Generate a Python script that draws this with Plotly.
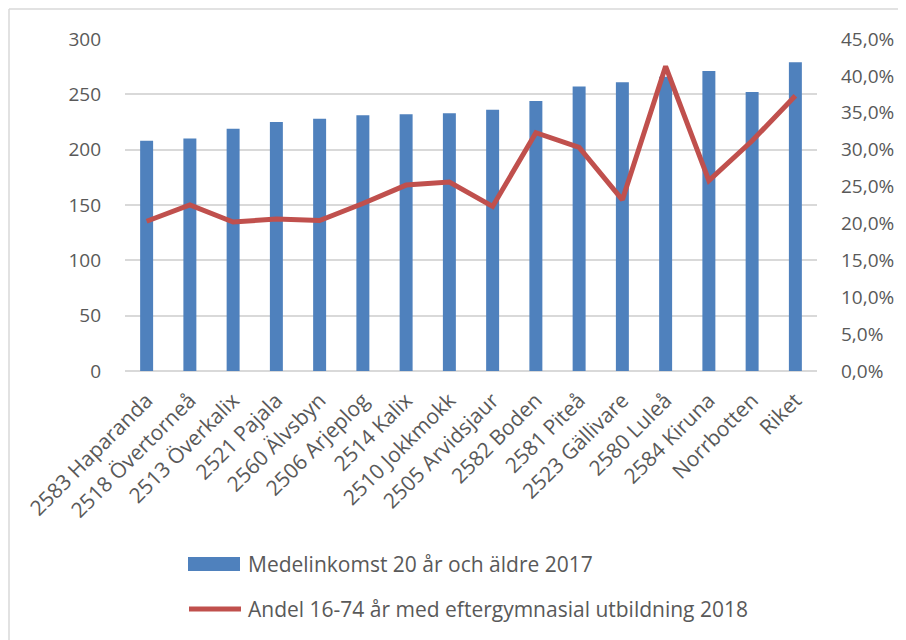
import plotly.graph_objects as go

categories = ["2583 Haparanda", "2518 Övertorneå", "2513 Överkalix", "2521 Pajala",
              "2560 Älvsbyn", "2506 Arjeplog", "2514 Kalix", "2510 Jokkmokk",
              "2505 Arvidsjaur", "2582 Boden", "2581 Piteå", "2523 Gällivare",
              "2580 Luleå", "2584 Kiruna", "Norrbotten", "Riket"]
income = [208, 210, 219, 225, 228, 231, 232, 233, 236, 244, 257, 261, 266, 271, 252, 279]
edu_share = [0.203, 0.225, 0.202, 0.206, 0.204, 0.227, 0.252, 0.256, 0.223, 0.323,
             0.303, 0.232, 0.413, 0.258, 0.312, 0.373]
left_ticks = [0, 50, 100, 150, 200, 250, 300]
right_ticks = [i * 0.05 for i in range(10)]

name_bar = "Medelinkomst 20 år och äldre 2017"
name_line = "Andel 16-74 år med eftergymnasial utbildning 2018"

FONT = "Open Sans"
GRAY = "#595959"
BLUE = "#4F81BD"
RED = "#C0504D"
GRID = "#D9D9D9"

fig = go.Figure()
fig.add_trace(go.Bar(x=categories, y=income, name=name_bar,
                     marker=dict(color=BLUE, line=dict(width=0)), yaxis="y"))
fig.add_trace(go.Scatter(x=categories, y=edu_share, name=name_line, mode="lines",
                         line=dict(color=RED, width=5), yaxis="y2"))

# figure coords (page is offset by 8px body margin)
W, H = 906, 640
L, R, T, B = 117, 97, 31, 277
pw, ph = W - L - R, H - T - B


def px(x):
    return (x - L) / pw


def py(y):
    return (H - B - y) / ph


fig.update_layout(
    width=W, height=H,
    margin=dict(l=L, r=R, t=T, b=B, pad=0),
    paper_bgcolor="white", plot_bgcolor="white",
    font=dict(family=FONT, size=19, color=GRAY),
    separators=", ",
    bargap=0.7,
    showlegend=False,
    xaxis=dict(tickangle=-45, showgrid=False, showline=False, ticks="",
               ticklabelstandoff=12, tickfont=dict(size=21, color=GRAY)),
    yaxis=dict(range=[0, 300], tickvals=left_ticks, showgrid=True,
               gridcolor=GRID, gridwidth=1.5, zeroline=True,
               zerolinecolor=GRID, zerolinewidth=1.5, showline=False,
               ticks="", ticklabelstandoff=23, tickfont=dict(size=19, color=GRAY)),
    yaxis2=dict(range=[0, 0.45], tickvals=right_ticks, tickformat=".1%",
                overlaying="y", side="right", showgrid=False, zeroline=False,
                showline=False, ticks="", ticklabelstandoff=23,
                tickfont=dict(size=19, color=GRAY)),
    shapes=[
        dict(type="line", xref="paper", yref="paper", x0=px(1), x1=px(906), y0=py(1), y1=py(1),
             line=dict(color=GRID, width=1.5)),
        dict(type="line", xref="paper", yref="paper", x0=px(1), x1=px(1), y0=py(1), y1=py(640),
             line=dict(color=GRID, width=1.5)),
        # legend symbols
        dict(type="rect", xref="paper", yref="paper", x0=px(180), x1=px(232),
             y0=py(549), y1=py(563), fillcolor=BLUE, line=dict(width=0)),
        dict(type="line", xref="paper", yref="paper", x0=px(181), x1=px(233),
             y0=py(601), y1=py(601), line=dict(color=RED, width=5)),
    ],
    annotations=[
        dict(text=name_bar, xref="paper", yref="paper", x=px(238), y=py(556),
             xanchor="left", yanchor="middle", showarrow=False,
             font=dict(size=21, color=GRAY)),
        dict(text=name_line, xref="paper", yref="paper", x=px(238), y=py(601),
             xanchor="left", yanchor="middle", showarrow=False,
             font=dict(size=21, color=GRAY)),
    ],
)

fig.write_html("out.html")
